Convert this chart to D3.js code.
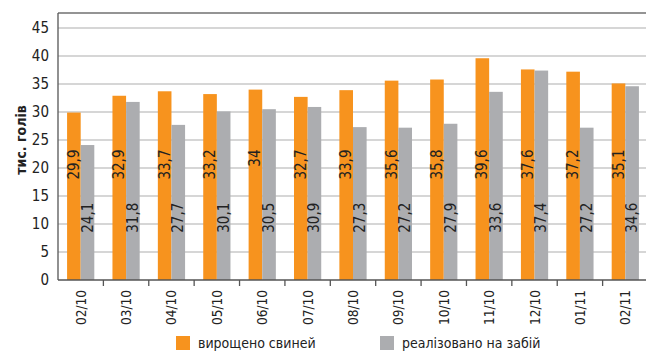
<!DOCTYPE html>
<html>
<head>
<meta charset="utf-8">
<script src="https://cdn.jsdelivr.net/npm/d3@7"></script>
<style>
  body { margin: 0; background: #fff; }
  text { font-family: "Liberation Sans Narrow", "DejaVu Sans Condensed", "Roboto Condensed", sans-serif; font-stretch: condensed; fill: #222; }
</style>
</head>
<body>
<div id="chart"></div>
<script>
// months and series
const months = ["02/10","03/10","04/10","05/10","06/10","07/10","08/10","09/10","10/10","11/10","12/10","01/11","02/11"];
const raised = [29.9, 32.9, 33.7, 33.2, 34, 32.7, 33.9, 35.6, 35.8, 39.6, 37.6, 37.2, 35.1];
const slaughtered = [24.1, 31.8, 27.7, 30.1, 30.5, 30.9, 27.3, 27.2, 27.9, 33.6, 37.4, 27.2, 34.6];
const yTicks = [0, 5, 10, 15, 20, 25, 30, 35, 40, 45];
const seriesNames = ["вирощено свиней", "реалізовано на забій"];
const colors = ["#f7931e", "#acadb0"];

const W = 646, H = 351;
const M = {t: 13, r: -2, b: 71, l: 58};

const svg = d3.select('#chart').append('svg').attr('width', W).attr('height', H);

const x = d3.scaleBand().domain(months).range([M.l, W - M.r]).padding(0);
const x1 = d3.scaleBand().domain([0, 1]).range([x.bandwidth() * 0.2, x.bandwidth() * 0.8]);
const y = d3.scaleLinear().domain([0, 45]).range([H - M.b, 28]);

// grid
svg.append('g').selectAll('line')
  .data(yTicks.filter(d => d > 0))
  .enter().append('line')
  .attr('x1', M.l).attr('x2', W)
  .attr('y1', d => y(d)).attr('y2', d => y(d))
  .attr('stroke', '#c8c8c8').attr('stroke-width', 1.3);

// top frame
svg.append('line')
  .attr('x1', M.l).attr('x2', W).attr('y1', M.t).attr('y2', M.t)
  .attr('stroke', '#707070').attr('stroke-width', 1.3);

// bars
const data = months.map((m, i) => ({m, vals: [raised[i], slaughtered[i]]}));
const groups = svg.append('g').selectAll('g')
  .data(data).enter().append('g')
  .attr('transform', d => `translate(${x(d.m)},0)`);

groups.selectAll('rect')
  .data(d => d.vals.map((v, k) => ({v, k})))
  .enter().append('rect')
  .attr('x', d => x1(d.k))
  .attr('width', x1.bandwidth())
  .attr('y', d => y(d.v))
  .attr('height', d => y(0) - y(d.v))
  .attr('fill', d => colors[d.k]);

// value labels (rotated, inside bars)
const labelAt = [23.3, 13.8];
groups.selectAll('text')
  .data(d => d.vals.map((v, k) => ({v, k})))
  .enter().append('text')
  .attr('transform', d => `translate(${x1(d.k) + x1.bandwidth() / 2 + 5},${y(labelAt[d.k])}) rotate(-90)`)
  .attr('text-anchor', 'end')
  .attr('font-size', 15)
  .text(d => String(d.v).replace('.', ','));

// y axis
const yAxis = svg.append('g')
  .attr('transform', `translate(${M.l},0)`)
  .call(d3.axisLeft(y).tickValues(yTicks).tickSize(0).tickPadding(9));
yAxis.select('.domain').remove();
yAxis.selectAll('text').attr('font-size', 15).attr('fill', '#222');
svg.append('line')
  .attr('x1', M.l).attr('x2', M.l).attr('y1', M.t).attr('y2', y(0))
  .attr('stroke', '#555').attr('stroke-width', 1.3);

// x axis
svg.append('line')
  .attr('x1', M.l).attr('x2', W).attr('y1', y(0)).attr('y2', y(0))
  .attr('stroke', '#555').attr('stroke-width', 1.3);
svg.append('g').selectAll('line')
  .data(months.slice(1))
  .enter().append('line')
  .attr('x1', d => x(d)).attr('x2', d => x(d))
  .attr('y1', y(0)).attr('y2', y(0) + 6)
  .attr('stroke', '#555').attr('stroke-width', 1.3);
svg.append('g').selectAll('text')
  .data(months)
  .enter().append('text')
  .attr('transform', d => `translate(${x(d) + x.bandwidth() / 2 + 5},${y(0) + 10}) rotate(-90)`)
  .attr('text-anchor', 'end')
  .attr('font-size', 13.5)
  .text(d => d);

// y label
svg.append('text')
  .attr('transform', `translate(26,140) rotate(-90)`)
  .attr('text-anchor', 'middle')
  .attr('font-size', 14)
  .attr('font-weight', 'bold')
  .text('тис. голів');

// legend
const legX = [176, 380];
seriesNames.forEach((name, i) => {
  svg.append('rect').attr('x', legX[i]).attr('y', 336).attr('width', 14).attr('height', 14).attr('fill', colors[i]);
  svg.append('text').attr('x', legX[i] + 22).attr('y', 348).attr('font-size', 14).text(name);
});
</script>
</body>
</html>
